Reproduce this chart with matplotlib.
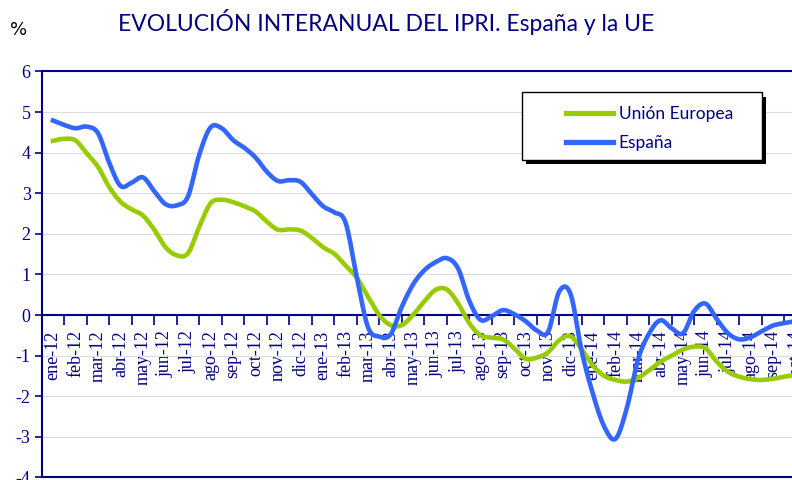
import numpy as np
import matplotlib
matplotlib.use('Agg')
import matplotlib.pyplot as plt
from matplotlib.patches import Rectangle

# Categorias del eje (meses)
meses = ['ene-12', 'feb-12', 'mar-12', 'abr-12', 'may-12', 'jun-12', 'jul-12', 'ago-12',
         'sep-12', 'oct-12', 'nov-12', 'dic-12', 'ene-13', 'feb-13', 'mar-13', 'abr-13',
         'may-13', 'jun-13', 'jul-13', 'ago-13', 'sep-13', 'oct-13', 'nov-13', 'dic-13',
         'ene-14', 'feb-14', 'mar-14', 'abr-14', 'may-14', 'jun-14', 'jul-14', 'ago-14',
         'sep-14', 'oct-14']

# Valores leidos cada medio mes (desde ene-12)
espana = [4.79, 4.68, 4.60, 4.64, 4.48, 3.75, 3.18, 3.26, 3.39, 3.05,
          2.73, 2.70, 2.92, 3.95, 4.62, 4.60, 4.31, 4.12, 3.88, 3.53,
          3.30, 3.32, 3.28, 2.98, 2.68, 2.53, 2.28, 0.94, -0.30, -0.53,
          -0.48, 0.20, 0.75, 1.10, 1.30, 1.40, 1.15, 0.35, -0.12, -0.03,
          0.12, 0.02, -0.15, -0.38, -0.42, 0.58, 0.52, -0.90, -1.95, -2.75,
          -3.05, -2.30, -1.10, -0.45, -0.13, -0.33, -0.45, 0.10, 0.28, -0.10,
          -0.45, -0.60, -0.55, -0.40, -0.26, -0.20, -0.15]
ue = [4.29, 4.34, 4.30, 3.98, 3.65, 3.15, 2.79, 2.60, 2.45, 2.10,
      1.67, 1.47, 1.52, 2.17, 2.75, 2.84, 2.78, 2.68, 2.55, 2.30,
      2.10, 2.11, 2.08, 1.90, 1.67, 1.51, 1.22, 0.92, 0.45, 0.00,
      -0.25, -0.25, 0.00, 0.33, 0.62, 0.63, 0.29, -0.20, -0.50, -0.56,
      -0.60, -0.82, -1.08, -1.05, -0.92, -0.62, -0.52, -0.85, -1.25, -1.50,
      -1.60, -1.64, -1.55, -1.36, -1.15, -1.00, -0.85, -0.78, -0.82, -1.15,
      -1.40, -1.52, -1.58, -1.60, -1.57, -1.52, -1.47]

NAVY = '#000080'
VERDE = '#99CC00'
AZUL = '#3366FF'


def suave(x, y, n=10):
    # linea suavizada tipo Catmull-Rom (como la linea suavizada de Excel)
    x = np.asarray(x, float)
    y = np.asarray(y, float)
    px = np.concatenate([[2*x[0]-x[1]], x, [2*x[-1]-x[-2]]])
    py = np.concatenate([[2*y[0]-y[1]], y, [2*y[-1]-y[-2]]])
    s = np.linspace(0, 1, n, endpoint=False)
    ox, oy = [], []
    for i in range(1, len(px)-2):
        for p, o in ((px, ox), (py, oy)):
            p0, p1, p2, p3 = p[i-1], p[i], p[i+1], p[i+2]
            o.extend(0.5*(2*p1 + (-p0+p2)*s + (2*p0-5*p1+4*p2-p3)*s**2
                          + (-p0+3*p1-3*p2+p3)*s**3))
    ox.append(x[-1])
    oy.append(y[-1])
    return np.array(ox), np.array(oy)


pos = np.arange(len(espana)) * 0.5  # posicion en meses

fig = plt.figure(figsize=(7.92, 4.8), dpi=100)
ax = fig.add_axes([41.75/792, 2.6/480, 765/792, 406/480])

xs, ys = suave(pos, ue)
l1, = ax.plot(xs, ys, color=VERDE, lw=3.3, zorder=3, label='Unión Europea')
xs, ys = suave(pos, espana)
l2, = ax.plot(xs, ys, color=AZUL, lw=3.3, zorder=3, label='España')

ax.set_xlim(-0.5, len(meses) - 0.5)
ax.set_ylim(-4, 6)

# ejes
for lado in ['left', 'top', 'bottom']:
    ax.spines[lado].set_color(NAVY)
    ax.spines[lado].set_linewidth(1.5)
ax.spines['right'].set_visible(False)
ax.spines['bottom'].set_position(('data', 0))
ax.axhline(-4, color=NAVY, lw=1.5, clip_on=False, zorder=2.6)

ax.yaxis.grid(True, color='#dcdcdc', lw=0.8)
ax.set_axisbelow(True)

yt = list(range(-4, 7))
ax.set_yticks(yt)
ax.set_yticklabels([str(v) for v in yt], family='Liberation Serif', fontsize=13, color=NAVY)
ax.tick_params(axis='y', direction='out', length=5, width=1.2, color=NAVY, pad=3)

ax.set_xticks(range(len(meses)))
ax.set_xticklabels(meses, rotation=90, family='Liberation Serif', fontsize=13,
                   color=NAVY, va='top', ha='center')
ax.set_xticks(np.arange(-0.5, len(meses), 1), minor=True)
ax.tick_params(axis='x', which='major', length=0, pad=11)
ax.tick_params(axis='x', which='minor', direction='out', length=7, width=1.2, color=NAVY)

# titulo
fig.text(386/792, 1 - 22/480, 'EVOLUCIÓN INTERANUAL DEL IPRI. España y la UE',
         ha='center', va='center', fontsize=16.5, color=NAVY, family='Lato')
fig.text(19/792, 1 - 30/480, '%', ha='center', va='center', fontsize=13, color='black',
         family='DejaVu Sans')

# leyenda con sombra negra
fig.add_artist(Rectangle((526/792, 1 - 164/480), 240/792, 67/480, transform=fig.transFigure,
                         facecolor='black', edgecolor='none', zorder=1))
fig.add_artist(Rectangle((521.5/792, 1 - 159.5/480), 240/792, 67/480, transform=fig.transFigure,
                         facecolor='white', edgecolor='black', lw=1, zorder=2))
leg = fig.legend([l1, l2], ['Unión Europea', 'España'], loc='upper left',
                 bbox_to_anchor=(557/792, 1 - 97/480), frameon=False,
                 handlelength=2.7, handletextpad=0.35, labelspacing=0.75, borderpad=0,
                 prop={'family': 'Lato', 'size': 12.5})
for txt in leg.get_texts():
    txt.set_color(NAVY)
for h in leg.get_lines():
    h.set_linewidth(3.8)
leg.set_zorder(5)

fig.savefig('out.png', dpi=100)
